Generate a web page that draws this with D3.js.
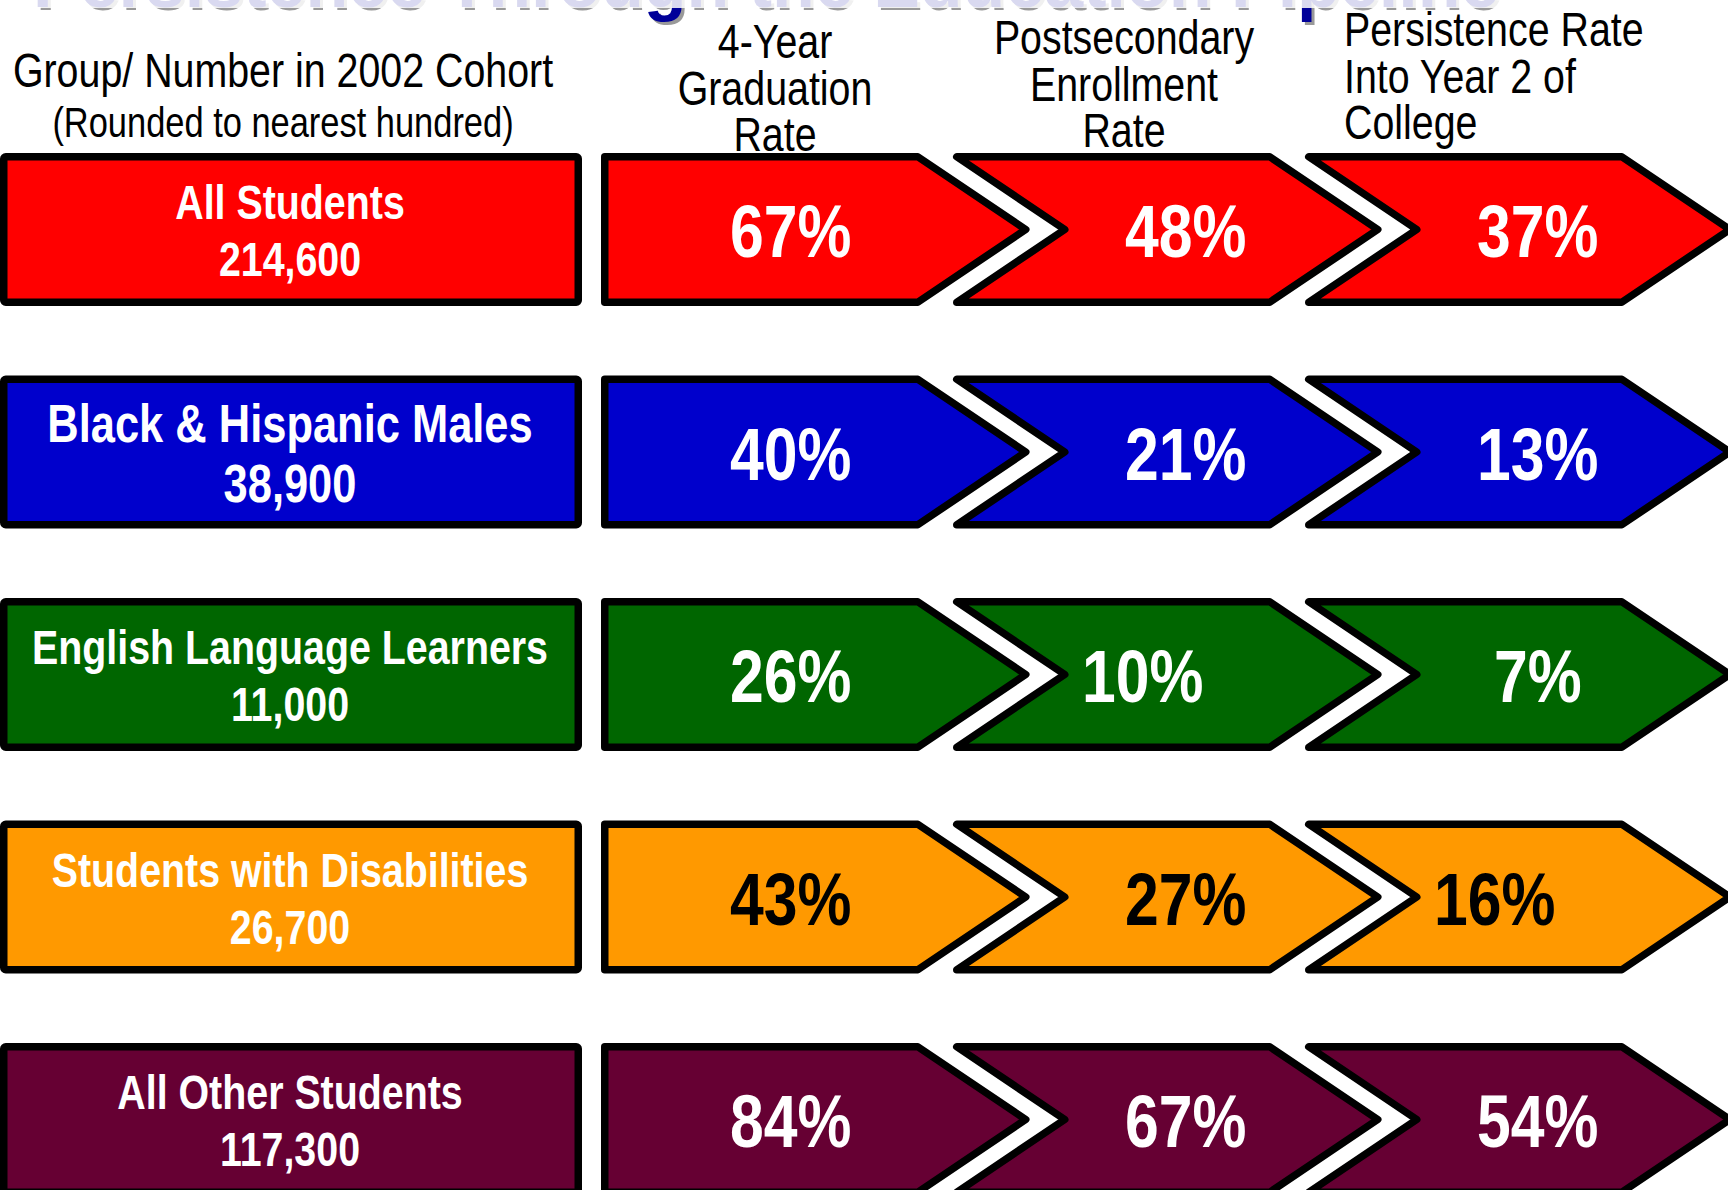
<!DOCTYPE html>
<html>
<head>
<meta charset="utf-8">
<script src="https://cdn.jsdelivr.net/npm/d3@7"></script>
<style>
  html, body { margin: 0; padding: 0; background: #fff; overflow: hidden; }
</style>
</head>
<body>
<svg id="chart"></svg>
<script>
// data
const title = "Persistence Through the Education Pipeline";
const groupHeader = ["Group/ Number in 2002 Cohort", "(Rounded to nearest hundred)"];
const groups = ["All Students", "Black & Hispanic Males", "English Language Learners",
                "Students with Disabilities", "All Other Students"];
const cohortSize = [214600, 38900, 11000, 26700, 117300];
const stages = ["grad", "enroll", "persist"];
const stageLabels = [["4-Year", "Graduation", "Rate"],
                     ["Postsecondary", "Enrollment", "Rate"],
                     ["Persistence Rate", "Into Year 2 of", "College"]];
const gradRate = [67, 40, 26, 43, 84];
const enrollRate = [48, 21, 10, 27, 67];
const persistRate = [37, 13, 7, 16, 54];
const groupColors = ["#ff0000", "#0000cc", "#006600", "#ff9900", "#660033"];

const W = 1728, H = 1190;
const rowH = 153, sw = 7.5;
const bodyW = 313, tipW = 108;
const NARROW = "'Liberation Sans Narrow', 'Arial Narrow', 'Liberation Sans', Arial, sans-serif";
const WIDE = "'Liberation Sans', Arial, sans-serif";

const svg = d3.select("#chart").attr("width", W).attr("height", H);

// if no narrow face is installed, squeeze the regular one
const probe = svg.append("text").style("font-family", NARROW).style("font-size", "100px").text("Graduation");
const probe2 = svg.append("text").style("font-family", WIDE).style("font-size", "100px").text("Graduation");
const sx = Math.abs(probe.node().getComputedTextLength() - probe2.node().getComputedTextLength()) < 1 ? 0.82 : 1;
probe.remove(); probe2.remove();

const addText = (parent, x, y, str, size, opts = {}) => {
    const g = parent.append("g").attr("transform", `translate(${x},${y}) scale(${sx},1)`);
    return g.append("text")
        .attr("text-anchor", opts.anchor || "middle")
        .style("font-family", NARROW)
        .style("font-weight", opts.bold ? "bold" : "normal")
        .style("font-size", size + "px")
        .style("fill", opts.fill || "#000")
        .text(str);
};

const y = d3.scalePoint().domain(groups).range([153, 1043]);
const x = d3.scalePoint().domain(stages).range([604.75, 1308.75]);
const color = d3.scaleOrdinal().domain(groups).range(groupColors);
const fmt = d3.format(",");

// title, mostly off the top of the slide
svg.append("text")
    .attr("x", 36).attr("y", 10)
    .style("font-family", WIDE).style("font-weight", "bold").style("font-size", "70px")
    .style("fill", "#999")
    .text(title);
svg.append("text")
    .attr("x", 33).attr("y", 7)
    .style("font-family", WIDE).style("font-weight", "bold").style("font-size", "70px")
    .style("fill", "#000099")
    .text(title);
svg.append("rect").attr("x", 0).attr("y", 0).attr("width", W).attr("height", 8)
    .style("fill", "#fff").style("opacity", 0.85);

// column headers
groupHeader.forEach((t, i) => addText(svg, 283, i === 0 ? 87 : 137, t, i === 0 ? 48 : 42));
const headX = [775, 1124, 1344];
const headY = [58, 54, 46];
stageLabels.forEach((lines, c) => {
    lines.forEach((t, k) => addText(svg, headX[c], headY[c] + k * 46.5, t, 48,
        { anchor: c === 2 ? "start" : "middle" }));
});

// group boxes
const nameSize = { "Black & Hispanic Males": 53 };
const rows = svg.selectAll("g.row")
    .data(groups)
    .enter()
    .append("g")
    .attr("class", "row");

rows.append("rect")
    .attr("x", sw / 2)
    .attr("y", d => y(d) + sw / 2)
    .attr("width", 582 - sw)
    .attr("height", rowH - sw)
    .attr("rx", 2)
    .style("fill", d => color(d))
    .style("stroke", "#000")
    .style("stroke-width", sw);

rows.each(function (d, i) {
    const s = nameSize[d] || 48;
    const big = s > 48 ? 3 : 0;
    addText(d3.select(this), 290, y(d) + 66, d, s, { bold: true, fill: "#fff" });
    addText(d3.select(this), 290, y(d) + 123 + big, fmt(cohortSize[i]), s, { bold: true, fill: "#fff" });
});

// pipeline chevrons
const rates = [gradRate, enrollRate, persistRate];
const cells = groups.flatMap((g, r) => stages.map((s, c) => ({ group: g, stage: s, col: c, value: rates[c][r] })));

const chevron = d => {
    const L = x(d.stage), top = y(d.group) + sw / 2, bot = y(d.group) + rowH - sw / 2;
    const mid = (top + bot) / 2, F = L + bodyW;
    const p = d3.path();
    p.moveTo(L, top);
    p.lineTo(F, top);
    p.lineTo(F + tipW, mid);
    p.lineTo(F, bot);
    p.lineTo(L, bot);
    if (d.col > 0) p.lineTo(L + tipW, mid);
    p.closePath();
    return p.toString();
};

svg.selectAll("path.chev")
    .data(cells)
    .enter()
    .append("path")
    .attr("class", "chev")
    .attr("d", chevron)
    .style("fill", d => color(d.group))
    .style("stroke", "#000")
    .style("stroke-width", sw)
    .style("stroke-linejoin", "round");

// a couple of labels sit further left in their arrow
const shift = { "English Language Learners|enroll": -43, "Students with Disabilities|persist": -43 };
cells.forEach(d => {
    const cx = x(d.stage) + (d.col === 0 ? 186 : 229) + (shift[d.group + "|" + d.stage] || 0);
    addText(svg, cx, y(d.group) + 104, d.value + "%", 74, {
        bold: true,
        fill: d.group === "Students with Disabilities" ? "#000" : "#fff"
    });
});
</script>
</body>
</html>
